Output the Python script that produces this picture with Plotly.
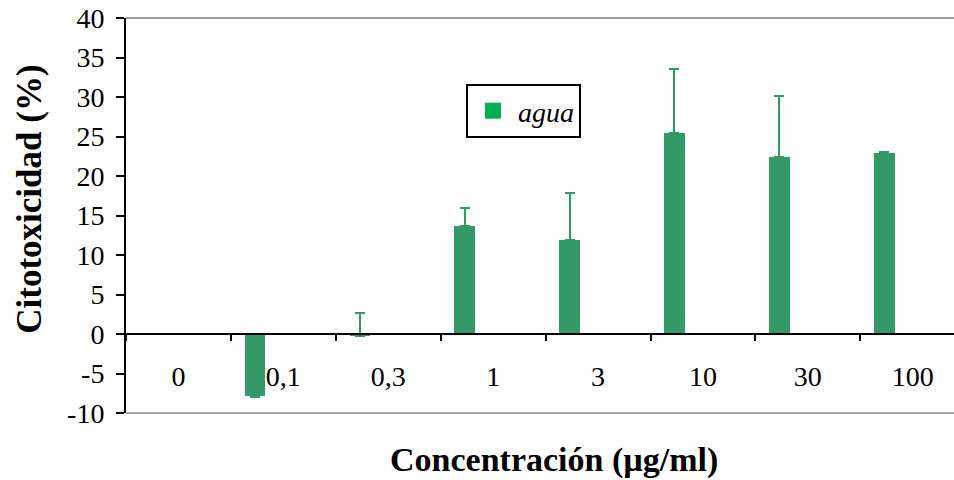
import plotly.graph_objects as go

# Data: cytotoxicity (%) by concentration, with upper error
concentrations = ["0", "0,1", "0,3", "1", "3", "10", "30", "100"]
citotoxicidad = [0.0, -7.8, -0.25, 13.7, 11.85, 25.5, 22.45, 22.9]
error_plus = [0.0, 0.0, 2.85, 2.3, 6.0, 8.1, 7.65, 0.2]
error_minus = [0.0, 0.15, 0.0, 0.0, 0.0, 0.0, 0.0, 0.0]

y_range = [-10, 40]
y_ticks = [-10, -5, 0, 5, 10, 15, 20, 25, 30, 35, 40]
y_tick_text = ["-10", "-5", "0", "5", "10", "15", "20", "25", "30", "35", "40"]
x_range = [-0.5, 7.393]

bar_color = "#339966"
legend_color = "#00B050"
serif = "Liberation Serif, Times New Roman, serif"

fig = go.Figure()

fig.add_trace(go.Bar(
    x=concentrations,
    y=citotoxicidad,
    width=0.195,
    offset=-0.369,
    marker=dict(color=bar_color, line=dict(width=0)),
    error_y=dict(type="data", symmetric=False, array=error_plus,
                 arrayminus=error_minus, color=bar_color,
                 thickness=2, width=5),
    showlegend=False,
    name="agua",
))

# Legend entry (square swatch)
fig.add_trace(go.Scatter(
    x=[None], y=[None], mode="markers", name="agua",
    marker=dict(symbol="square", size=16, color=legend_color),
))

zero_pos = (0 - y_range[0]) / (y_range[1] - y_range[0])

fig.update_layout(
    width=954, height=480, autosize=False,
    margin=dict(l=126, r=0, t=18, b=67, pad=0),
    paper_bgcolor="white", plot_bgcolor="white",
    font=dict(family=serif, color="black"),
    bargap=0,
    xaxis=dict(
        type="category", range=x_range, anchor="free", position=zero_pos,
        showline=True, linecolor="black", linewidth=2,
        ticks="outside", tickson="boundaries", ticklen=6, tickwidth=1.5,
        tickcolor="black", showgrid=False, zeroline=False,
        tickfont=dict(family=serif, size=28, color="black"),
        ticklabelstandoff=17,
    ),
    yaxis=dict(
        range=y_range, tickmode="array", tickvals=y_ticks, ticktext=y_tick_text,
        showline=True, linecolor="black", linewidth=2,
        ticks="outside", ticklen=8, tickwidth=2, tickcolor="black",
        showgrid=False, zeroline=False,
        tickfont=dict(family=serif, size=28, color="black"),
        ticklabelstandoff=6,
    ),
    legend=dict(
        x=0.4106, y=0.833, xanchor="left", yanchor="top",
        bgcolor="white", bordercolor="black", borderwidth=2,
        itemwidth=40,
        font=dict(family=serif, size=28, color="black", style="italic"),
    ),
    shapes=[
        dict(type="line", xref="paper", yref="paper", x0=0, x1=1, y0=1, y1=1,
             line=dict(color="#808080", width=1.5)),
        dict(type="line", xref="paper", yref="paper", x0=0, x1=1, y0=0, y1=0,
             line=dict(color="#a6a6a6", width=2)),
    ],
    annotations=[
        dict(text="<b>Concentración (µg/ml)</b>", xref="paper", yref="paper",
             x=0.517, y=-0.119, xanchor="center", yanchor="middle",
             showarrow=False, font=dict(family=serif, size=34, color="black")),
        dict(text="<b>Citotoxicidad (%)</b>", xref="paper", yref="paper",
             x=-0.1159, y=0.54, xanchor="center", yanchor="middle",
             textangle=-90, showarrow=False,
             font=dict(family=serif, size=35, color="black")),
    ],
)

fig.write_html("out.html")
